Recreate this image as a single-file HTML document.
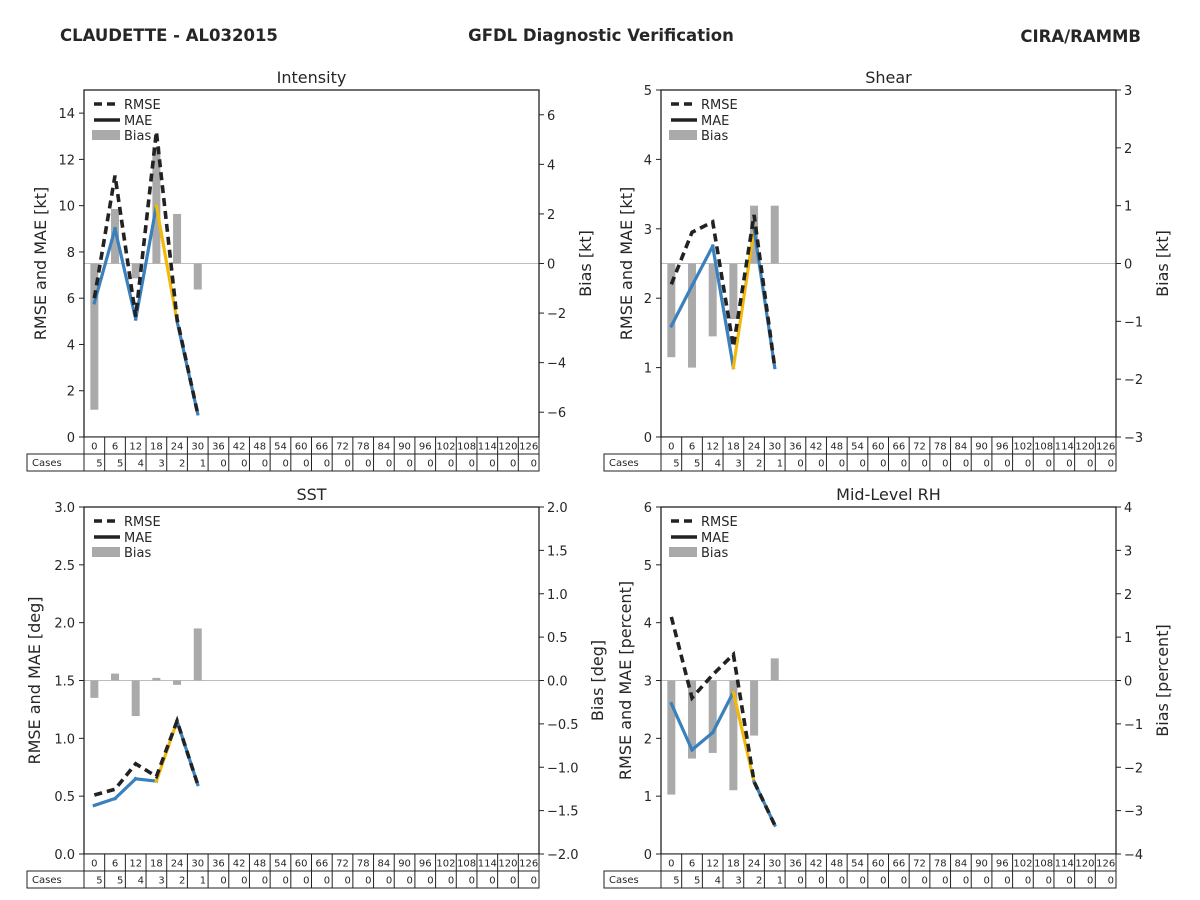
<!DOCTYPE html>
<html><head><meta charset="utf-8"><style>
html,body{margin:0;padding:0;background:#fff;width:1200px;height:900px;overflow:hidden}
svg{display:block;font-family:"DejaVu Sans","Liberation Sans",sans-serif}
</style></head><body>
<svg id="fig" width="1200" height="900" viewBox="0 0 1200 900">
<text x="60" y="41" font-size="16.5" font-weight="bold" fill="#262626">CLAUDETTE - AL032015</text>
<text x="601" y="41" font-size="16.5" font-weight="bold" fill="#262626" text-anchor="middle">GFDL Diagnostic Verification</text>
<text x="1141" y="42" font-size="16.5" font-weight="bold" fill="#262626" text-anchor="end">CIRA/RAMMB</text>
</svg>
<script>
const hours = [0,6,12,18,24,30,36,42,48,54,60,66,72,78,84,90,96,102,108,114,120,126];
const cases = [5,5,4,3,2,1,0,0,0,0,0,0,0,0,0,0,0,0,0,0,0,0];
const intensityRmse = [6.0,11.3,5.2,13.2,5.1,1.0];
const intensityMae = [5.8,9.0,5.1,10.0,5.0,1.0];
const intensityBias = [-5.9,2.2,-0.6,4.7,2.0,-1.05];
const shearRmse = [2.2,2.95,3.1,1.3,3.2,1.0];
const shearMae = [1.6,2.18,2.75,1.0,3.0,1.0];
const shearBias = [-1.62,-1.8,-1.26,-0.96,1.0,1.0];
const sstRmse = [0.51,0.56,0.78,0.67,1.15,0.6];
const sstMae = [0.42,0.48,0.65,0.63,1.15,0.6];
const sstBias = [-0.2,0.08,-0.41,0.03,-0.05,0.6];
const rhRmse = [4.1,2.7,3.1,3.45,1.25,0.5];
const rhMae = [2.6,1.8,2.1,2.8,1.25,0.5];
const rhBias = [-2.63,-1.8,-1.67,-2.53,-1.27,0.51];
const intensityLeftTicks = ["0","2","4","6","8","10","12","14"];
const intensityRightTicks = ["−6","−4","−2","0","2","4","6"];
const shearLeftTicks = ["0","1","2","3","4","5"];
const shearRightTicks = ["−3","−2","−1","0","1","2","3"];
const sstLeftTicks = ["0.0","0.5","1.0","1.5","2.0","2.5","3.0"];
const sstRightTicks = ["−2.0","−1.5","−1.0","−0.5","0.0","0.5","1.0","1.5","2.0"];
const rhLeftTicks = ["0","1","2","3","4","5","6"];
const rhRightTicks = ["−4","−3","−2","−1","0","1","2","3","4"];
const yellowSegment = 3;

const NS="http://www.w3.org/2000/svg";
const fig=document.getElementById('fig');
function mk(tag,attrs,parent,txt){const e=document.createElementNS(NS,tag);for(const k in attrs)e.setAttribute(k,attrs[k]);if(txt!==undefined)e.textContent=txt;(parent||fig).appendChild(e);return e;}
function num(s){return parseFloat(s.replace('−','-'));}

function panel(cfg){
  const g=mk('g',{});
  
  
  const L=cfg.x,T=cfg.y,W=455,H=347,R=L+W,B=T+H;
  const cw=W/hours.length;
  const xs=i=>L+cw*(i+0.5);
  const yl=v=>B-(v-cfg.lmin)/(cfg.lmax-cfg.lmin)*H;
  const yr=v=>B-(v-cfg.rmin)/(cfg.rmax-cfg.rmin)*H;
  const t=mk('text',{x:L+W/2,y:T-7,'font-size':16,'text-anchor':'middle',fill:'#262626'},g,cfg.title);
  
  
  const z=mk('line',{x1:L,x2:R,y1:yr(0),y2:yr(0),stroke:'#bdbdbd','stroke-width':1},g);
  
  
  cfg.bias.forEach((v,i)=>{
    const y0=yr(0),y1=yr(v);
    const r=mk('rect',{x:xs(i)-4,y:Math.min(y0,y1),width:8,height:Math.abs(y1-y0),fill:'#aaaaaa'},g);
    
    
  });
  for(let i=0;i<cfg.mae.length-1;i++){
    const s=mk('line',{x1:xs(i),y1:yl(cfg.mae[i]),x2:xs(i+1),y2:yl(cfg.mae[i+1]),stroke:i===yellowSegment?'#f2b90c':'#3a80bd','stroke-width':3.2,'stroke-linecap':'square'},g);
    
    
  }
  const pts=cfg.rmse.map((v,i)=>xs(i)+','+yl(v)).join(' ');
  const pl=mk('polyline',{points:pts,fill:'none',stroke:'#222','stroke-width':3.6,'stroke-dasharray':'8,5'},g);
  
  
  const fr=mk('rect',{x:L,y:T,width:W,height:H,fill:'none',stroke:'#222','stroke-width':1.3},g);
  
  
  cfg.lticks.forEach(lab=>{
    const y=yl(num(lab));
    mk('line',{x1:L-5,x2:L,y1:y,y2:y,stroke:'#222'},g);
    const tx=mk('text',{x:L-9,y:y+5,'font-size':13,'text-anchor':'end',fill:'#262626'},g,lab);
    
    
  });
  cfg.rticks.forEach(lab=>{
    const y=yr(num(lab));
    mk('line',{x1:R,x2:R+5,y1:y,y2:y,stroke:'#222'},g);
    const tx=mk('text',{x:R+8,y:y+5,'font-size':13,fill:'#262626'},g,lab);
    
    
  });
  const ylab=mk('text',{x:0,y:0,'font-size':16,'text-anchor':'middle',fill:'#262626',transform:`translate(${cfg.llx},${T+H/2}) rotate(-90)`},g,cfg.lLabel);
  
  
  const rlab=mk('text',{x:0,y:0,'font-size':16,'text-anchor':'middle',fill:'#262626',transform:`translate(${cfg.rlx},${T+H/2}) rotate(-90)`},g,cfg.rLabel);
  
  
  const lg=mk('g',{},g);
  
  
  mk('line',{x1:L+10,x2:L+36,y1:T+14,y2:T+14,stroke:'#222','stroke-width':3.6,'stroke-dasharray':'8,5'},lg);
  mk('text',{x:L+40,y:T+19,'font-size':13,fill:'#262626'},lg,'RMSE');
  mk('line',{x1:L+10,x2:L+36,y1:T+30,y2:T+30,stroke:'#222','stroke-width':3.6},lg);
  mk('text',{x:L+40,y:T+35,'font-size':13,fill:'#262626'},lg,'MAE');
  mk('rect',{x:L+8,y:T+40,width:28,height:10,fill:'#aaaaaa'},lg);
  mk('text',{x:L+40,y:T+50,'font-size':13,fill:'#262626'},lg,'Bias');
  const tb=mk('g',{},g);
  
  
  mk('rect',{x:L,y:B,width:W,height:17,fill:'#fff',stroke:'#222','stroke-width':1},tb);
  mk('rect',{x:L-57,y:B+17,width:W+57,height:17,fill:'#fff',stroke:'#222','stroke-width':1},tb);
  mk('line',{x1:L,x2:L,y1:B+17,y2:B+34,stroke:'#222'},tb);
  mk('text',{x:L-52,y:B+29,'font-size':10,fill:'#262626'},tb,'Cases');
  hours.forEach((h,i)=>{
    const x0=L+cw*i;
    if(i>0){mk('line',{x1:x0,x2:x0,y1:B,y2:B+34,stroke:'#222'},tb);}
    const ht=mk('text',{x:x0+cw/2,y:B+12.5,'font-size':10,'text-anchor':'middle',fill:'#262626'},tb,String(h));
    
    
    const ct=mk('text',{x:x0+cw-2,y:B+29.5,'font-size':10,'text-anchor':'end',fill:'#262626'},tb,String(cases[i]));
    
    
  });
}
panel({key:'intensity',title:'Intensity',x:84,y:90,lmin:0,lmax:15,rmin:-7,rmax:7,rmse:intensityRmse,mae:intensityMae,bias:intensityBias,lticks:intensityLeftTicks,rticks:intensityRightTicks,lLabel:'RMSE and MAE [kt]',rLabel:'Bias [kt]',llx:46,rlx:591});
panel({key:'shear',title:'Shear',x:661,y:90,lmin:0,lmax:5,rmin:-3,rmax:3,rmse:shearRmse,mae:shearMae,bias:shearBias,lticks:shearLeftTicks,rticks:shearRightTicks,lLabel:'RMSE and MAE [kt]',rLabel:'Bias [kt]',llx:632,rlx:1168});
panel({key:'sst',title:'SST',x:84,y:507,lmin:0,lmax:3,rmin:-2,rmax:2,rmse:sstRmse,mae:sstMae,bias:sstBias,lticks:sstLeftTicks,rticks:sstRightTicks,lLabel:'RMSE and MAE [deg]',rLabel:'Bias [deg]',llx:40,rlx:603});
panel({key:'rh',title:'Mid-Level RH',x:661,y:507,lmin:0,lmax:6,rmin:-4,rmax:4,rmse:rhRmse,mae:rhMae,bias:rhBias,lticks:rhLeftTicks,rticks:rhRightTicks,lLabel:'RMSE and MAE [percent]',rLabel:'Bias [percent]',llx:631,rlx:1168});
</script>
</body></html>
